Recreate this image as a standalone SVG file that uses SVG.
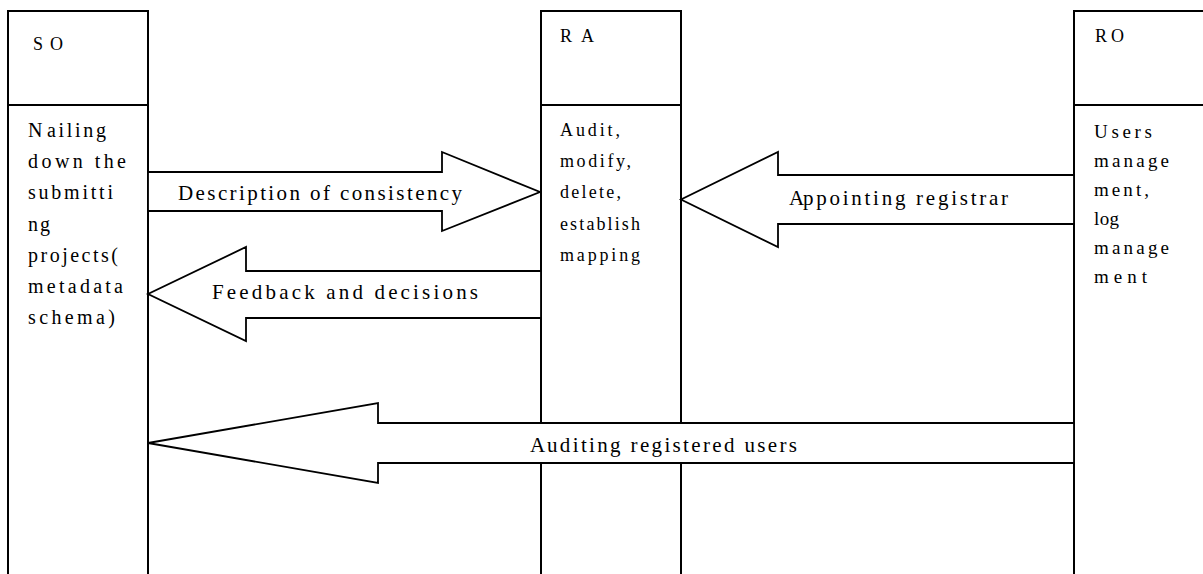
<svg xmlns="http://www.w3.org/2000/svg" width="1203" height="574" viewBox="0 0 1203 574">
<style>
.box{fill:none;stroke:#000;stroke-width:2}
.arr{fill:#fff;stroke:#000;stroke-width:1.8;stroke-linejoin:miter}
text{font-family:"Liberation Serif","Times New Roman",serif;fill:#000}
.hd{font-size:18px}
.lb{font-size:21px}
.so{font-size:20px}
.ra{font-size:18px}
.ro{font-size:19px}
</style>
<rect width="1203" height="574" fill="#fff"/>
<g id="SO">
<path class="box" d="M8,580 V11 H148 V580 M8,105 H148"/>
<text class="hd" x="33" y="50" textLength="30" lengthAdjust="spacing">SO</text>
<text class="so" x="28" y="137"><tspan>N</tspan><tspan x="47" textLength="59" lengthAdjust="spacing">ailing</tspan></text>
<text class="so" x="28" y="168" textLength="98" lengthAdjust="spacing">down the</text>
<text class="so" x="28" y="199" textLength="85" lengthAdjust="spacing">submitti</text>
<text class="so" x="28" y="231" textLength="22" lengthAdjust="spacing">ng</text>
<text class="so" x="28" y="262" textLength="90" lengthAdjust="spacing">projects(</text>
<text class="so" x="28" y="293" textLength="95" lengthAdjust="spacing">metadata</text>
<text class="so" x="28" y="324" textLength="87" lengthAdjust="spacing">schema)</text>
</g>
<g id="RA">
<path class="box" d="M541,580 V11 H681 V580 M541,105 H681"/>
<text class="hd" x="560" y="42" textLength="34" lengthAdjust="spacing">RA</text>
<text class="ra" x="560" y="136" textLength="60" lengthAdjust="spacing">Audit,</text>
<text class="ra" x="560" y="167" textLength="71" lengthAdjust="spacing">modify,</text>
<text class="ra" x="560" y="198" textLength="61" lengthAdjust="spacing">delete,</text>
<text class="ra" x="560" y="230" textLength="80" lengthAdjust="spacing">establish</text>
<text class="ra" x="560" y="261" textLength="80" lengthAdjust="spacing">mapping</text>
</g>
<g id="RO">
<path class="box" d="M1074,580 V11 H1210 M1074,105 H1210"/>
<text class="hd" x="1095" y="42" textLength="29" lengthAdjust="spacing">RO</text>
<text class="ro" x="1094" y="138" textLength="58" lengthAdjust="spacing">Users</text>
<text class="ro" x="1094" y="167" textLength="75" lengthAdjust="spacing">manage</text>
<text class="ro" x="1094" y="196" textLength="55" lengthAdjust="spacing">ment,</text>
<text class="ro" x="1094" y="225" textLength="25" lengthAdjust="spacing">log</text>
<text class="ro" x="1094" y="254" textLength="75" lengthAdjust="spacing">manage</text>
<text class="ro" x="1094" y="283" textLength="53" lengthAdjust="spacing">ment</text>
</g>
<g id="connectors">
<g id="e1">
<polygon class="arr" points="148,172 442,172 442,152 540,192 442,231 442,211 148,211"/>
<text class="lb" x="178" y="200" textLength="284" lengthAdjust="spacing">Description of consistency</text>
</g>
<g id="e2">
<polygon class="arr" points="541,271 246,271 246,247 148,294 246,341 246,318 541,318"/>
<text class="lb" x="212" y="299" textLength="266" lengthAdjust="spacing">Feedback and decisions</text>
</g>
<g id="e3">
<polygon class="arr" points="1074,175 778,175 778,152 681,199.5 778,247 778,224 1074,224"/>
<text class="lb" x="789" y="205"><tspan>A</tspan><tspan x="803" textLength="205" lengthAdjust="spacing">ppointing registrar</tspan></text>
</g>
<g id="e4">
<polygon class="arr" points="1074,423 378,423 378,403 148,443 378,483 378,463 1074,463"/>
<text class="lb" x="530" y="452"><tspan>A</tspan><tspan x="547" textLength="250" lengthAdjust="spacing">uditing registered users</tspan></text>
</g>
</g>
</svg>
